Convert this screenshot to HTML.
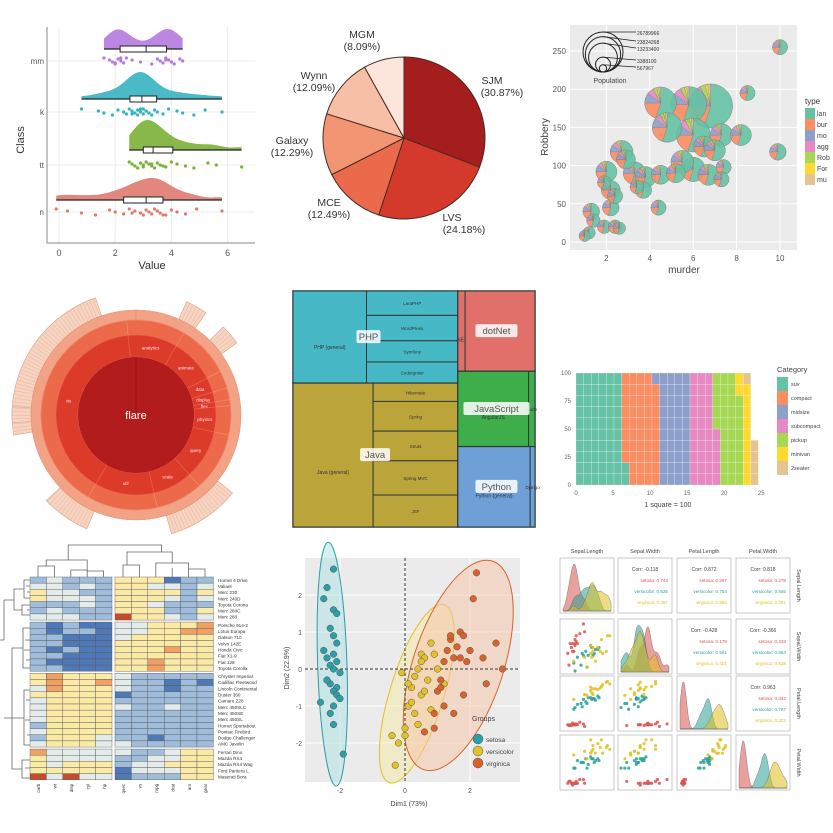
<!DOCTYPE html>
<html><head><meta charset="utf-8">
<style>
html,body{margin:0;padding:0;background:#fff;}
svg{display:block;font-family:"Liberation Sans",sans-serif;}
</style></head>
<body>
<svg id="chart" width="833" height="833" viewBox="0 0 833 833">
<rect x="0" y="0" width="833" height="833" fill="#ffffff"/>
<g id="p1"></g>
<g id="p2"></g>
<g id="p3"></g>
<g id="p4"></g>
<g id="p5"></g>
<g id="p6"></g>
<g id="p7"></g>
<g id="p8"></g>
<g id="p9"></g>
</svg>
<script>
// ---------- DATA ----------
const rcClasses=['mm','k','tt','n'];
const rcMM=[1.6,1.8,1.9,2.0,2.1,2.2,2.3,2.4,2.6,2.9,3.3,3.5,3.6,3.7,3.8,3.9,4.0,4.1,4.3,4.4,2.0,2.2,3.8,4.0];
const rcK=[0.8,1.4,1.6,1.9,2.1,2.3,2.4,2.5,2.6,2.7,2.8,2.8,2.9,3.0,3.0,3.1,3.2,3.3,3.4,3.5,3.7,3.9,4.2,4.4,4.8,5.2,5.8,2.6,2.9,3.1];
const rcTT=[2.5,2.6,2.7,2.8,2.9,3.0,3.0,3.1,3.2,3.3,3.4,3.5,3.6,3.8,4.0,4.2,4.5,4.8,5.3,5.6,6.5,3.1,3.3,3.7];
const rcN=[-0.1,0.3,0.8,1.3,1.8,2.0,2.3,2.5,2.7,2.9,3.0,3.1,3.2,3.3,3.4,3.5,3.6,3.8,4.0,4.2,4.5,4.9,5.8,2.6,3.7];
const rcTicks=[0,2,4,6];

const pieLabels=['SJM','LVS','MCE','Galaxy','Wynn','MGM'];
const pieValues=[30.87,24.18,12.49,12.29,12.09,8.09];

const bubMurder=[10,8.5,9.9,4.5,5.8,6.8,4.8,6.0,7.3,8.2,6.5,7.0,2.7,2.9,5.5,6.0,6.7,7.4,7.3,3.3,3.8,4.5,5.2,2.0,1.9,2.2,2.4,3.7,3.4,2.2,4.4,1.3,1.4,1.9,2.4,2.6,1.2,1.0];
const bubRobbery=[255,195,118,182,180,178,150,140,140,140,125,120,118,108,105,95,88,98,82,90,85,88,90,92,78,68,60,68,72,45,45,40,28,20,20,18,12,8];
const bubPop=[1.5,1.5,2,12,16,26,10,14,5,4,4,4,5,3,5,6,4,1.5,1.5,5,4,3,3,4,1,3,1.5,2,1,2,1.5,2,1,1,1,0.7,0.7,0.5];
const typeNames=['lan','bur','mo','agg','Rob','For','mu'];
const typeShare=[0.55,0.2,0.1,0.07,0.04,0.02,0.02];
const popLegend=[26,20,13,3,0.5];
const popLegendLabels=['26789966','23824268','13233400','3388100','567967'];
const bubXTicks=[2,4,6,8,10];
const bubYTicks=[0,50,100,150,200,250];

const sbL1Names=['analytics','animate','data','display','flex','physics','query','scale','util','vis'];
const sbL1Values=[10,9,3,2,1,5,10,8,12,40];

const tmGroups=['PHP','Java','dotNet','JavaScript','Python'];
const tmGroupCol=[0,0,1,1,1];
const tmChildren=[[7000,2300,2400,2000,2000],[11900,1600,2600,2600,3000,2800],[600,5800],[5500,500],[6000,400]];
const tmChildNames=[['PHP (general)','LaraPHP','WordPress','Symfony','CodeIgniter'],['Java (general)','Hibernate','Spring','Struts','Spring MVC','JSF'],['.NET','dotNet (general)'],['AngularJS','Node'],['Python (general)','Django']];

const wafCats=['suv','compact','midsize','subcompact','pickup','minivan','2seater'];
const wafCounts=[62,47,41,35,33,11,5];
const wafXTicks=[0,5,10,15,20,25];
const wafYTicks=[0,25,50,75,100];

const hmRowNames=['Hornet 4 Drive','Valiant','Merc 230','Merc 240D','Toyota Corona','Merc 280C','Merc 280','Porsche 914-2','Lotus Europa','Datsun 710','Volvo 142E','Honda Civic','Fiat X1-9','Fiat 128','Toyota Corolla','Chrysler Imperial','Cadillac Fleetwood','Lincoln Continental','Duster 360','Camaro Z28','Merc 450SLC','Merc 450SE','Merc 450SL','Hornet Sportabout','Pontiac Firebird','Dodge Challenger','AMC Javelin','Ferrari Dino','Mazda RX4','Mazda RX4 Wag','Ford Pantera L','Maserati Bora'];
const hmColNames=['carb','wt','disp','cyl','hp','qsec','vs','mpg','drat','am','gear'];
const hmRows=['23222444122','33232443323','43322444424','43332444323','22232443222','23222444224','33322644323',
'21211334445','21221334455','22111344444','22111444444','21211444544','22111444444','21111445444','22111445444',
'45444322222','45445322121','35444322122','44444122222','34444222222','34444322322','34444222222','34444222222','24444222222','34444222222','24443221222','34443322222',
'53333322344','43333223344','43444233444','44444133344','63633122244'];
const hmGroupSizes=[7,8,12,5];

const pcaGroups=['setosa','versicolor','virginica'];
const pcaSetX=[-2.2,-2.4,-2.5,-2.2,-2.1,-2.3,-2.2,-2.1,-2.5,-2.2,-2.4,-2.1,-2.3,-2.2,-2.0,-2.4,-2.3,-2.1,-2.2,-2.6,-2.2,-2.3,-2.2,-2.1,-2.0,-2.4,-1.9];
const pcaSetY=[2.7,2.2,1.9,1.6,1.5,1.1,0.9,0.7,0.5,0.4,0.3,0.2,0.1,0.0,-0.1,-0.3,-0.4,-0.5,-0.6,-0.9,-1.0,-1.2,-1.5,-0.7,-0.8,-0.3,-2.3];
const pcaVerX=[-0.3,0.0,0.1,0.2,0.3,0.4,0.5,0.5,0.6,0.7,0.8,0.9,1.0,0.3,0.4,0.2,0.1,0.0,-0.4,-0.2,0.6,1.2,0.8,0.5,-0.1];
const pcaVerY=[-2.6,-1.6,-1.0,-0.5,-0.2,0.0,0.4,-0.7,0.3,-0.3,0.7,0.4,0.0,-1.2,-1.5,-0.9,-0.4,-1.8,-1.8,-2.0,-0.6,-0.4,-1.1,0.2,-0.1];
const pcaVirX=[0.6,0.9,1.0,1.1,1.2,1.3,1.4,1.5,1.6,1.7,1.8,1.9,2.0,2.1,2.2,2.4,2.8,3.0,1.2,1.5,1.8,1.1,0.9,2.5,1.4,1.7];
const pcaVirY=[-1.7,-1.2,-0.6,-0.3,0.2,0.5,0.8,0.3,0.6,1.0,0.9,0.2,0.5,1.9,2.6,0.3,0.7,0.0,-1.0,-1.2,-0.7,-0.5,-1.6,-0.4,0.9,0.3];

const irisVars=['Sepal.Length','Sepal.Width','Petal.Length','Petal.Width'];
const irisSet=[[5.1,3.5,1.4,0.2],[4.9,3.0,1.4,0.2],[4.7,3.2,1.3,0.2],[5.0,3.6,1.4,0.2],[5.4,3.9,1.7,0.4],[4.6,3.4,1.4,0.3],[5.0,3.4,1.5,0.2],[4.4,2.9,1.4,0.2],[5.8,4.0,1.2,0.2],[5.7,4.4,1.5,0.4],[5.2,3.4,1.4,0.2],[4.8,3.0,1.4,0.1],[5.1,3.8,1.5,0.3],[4.8,3.4,1.6,0.2],[5.0,3.3,1.4,0.2],[4.5,2.3,1.3,0.3]];
const irisVer=[[7.0,3.2,4.7,1.4],[6.4,3.2,4.5,1.5],[6.9,3.1,4.9,1.5],[5.5,2.3,4.0,1.3],[6.5,2.8,4.6,1.5],[5.7,2.8,4.5,1.3],[6.3,3.3,4.7,1.6],[4.9,2.4,3.3,1.0],[6.6,2.9,4.6,1.3],[5.2,2.7,3.9,1.4],[5.0,2.0,3.5,1.0],[6.0,2.2,4.0,1.0],[5.9,3.0,4.2,1.5],[6.1,2.8,4.7,1.2],[5.6,2.9,3.6,1.3],[6.7,3.1,4.4,1.4]];
const irisVir=[[6.3,3.3,6.0,2.5],[5.8,2.7,5.1,1.9],[7.1,3.0,5.9,2.1],[6.3,2.9,5.6,1.8],[6.5,3.0,5.8,2.2],[7.6,3.0,6.6,2.1],[4.9,2.5,4.5,1.7],[7.3,2.9,6.3,1.8],[6.7,2.5,5.8,1.8],[7.2,3.6,6.1,2.5],[6.5,3.2,5.1,2.0],[6.4,2.7,5.3,1.9],[7.7,3.8,6.7,2.2],[6.0,2.2,5.0,1.5],[6.9,3.2,5.7,2.3],[7.9,3.8,6.4,2.0]];
const corTotal=[[null,'-0.118','0.872','0.818'],[null,null,'-0.428','-0.366'],[null,null,null,'0.963']];
const corSet=[[null,'0.743','0.267','0.278'],[null,null,'0.178','0.233'],[null,null,null,'0.332']];
const corVer=[[null,'0.526','0.754','0.546'],[null,null,'0.561','0.664'],[null,null,null,'0.787']];
const corVir=[[null,'0.457','0.864','0.281'],[null,null,'0.401','0.538'],[null,null,null,'0.322']];

// ---------- HELPERS ----------
const NS='http://www.w3.org/2000/svg';
function mk(tag,attrs,parent){const e=document.createElementNS(NS,tag);for(const k in attrs)e.setAttribute(k,attrs[k]);parent.appendChild(e);return e;}
function tx(s,attrs,parent){const e=mk('text',attrs,parent);e.textContent=s;return e;}
function kde(arr,bw,x){let s=0;for(const v of arr){const z=(x-v)/bw;s+=Math.exp(-0.5*z*z);}return s/(arr.length*bw*2.5066);}
function quant(arr,p){const a=[...arr].sort((x,y)=>x-y);const i=(a.length-1)*p;const lo=Math.floor(i),hi=Math.ceil(i);return a[lo]+(a[hi]-a[lo])*(i-lo);}
function arcPath(cx,cy,r0,r1,a0,a1){
  const p=(r,a)=>[cx+r*Math.sin(a),cy-r*Math.cos(a)];const lg=(a1-a0)>Math.PI?1:0;
  const A=p(r1,a0),B=p(r1,a1),C=p(r0,a1),D=p(r0,a0);
  if(r0<=0)return `M${cx},${cy}L${A}A${r1},${r1} 0 ${lg} 1 ${B}Z`;
  return `M${A}A${r1},${r1} 0 ${lg} 1 ${B}L${C}A${r0},${r0} 0 ${lg} 0 ${D}Z`;
}
function jit(i,n){return ((i*37)%n)-(n-1)/2;}

// ---------- PANEL 1: RAINCLOUD ----------
(function(){
const g=document.getElementById('p1');
const data=[rcMM,rcK,rcTT,rcN];
const cols=['#b57ae0','#35b2c0','#7ab035','#e07a70'];
const boxY=[49,99,150,200], dotY=[61,112,165,212], hgt=[20,27,30,22];
const xR=v=>59+v*28.1;
rcTicks.forEach(t=>{const l=mk('line',{x1:xR(t),x2:xR(t),y1:27,y2:243,stroke:'#ececec'},g);


const t2=tx(String(t),{x:xR(t),y:256,'font-size':9,'text-anchor':'middle',fill:'#555'},g);

});
dotY.forEach((y,i)=>{const l=mk('line',{x1:47,x2:255,y1:y,y2:y,stroke:'#ececec'},g);


const t=tx(rcClasses[i],{x:44,y:y+3,'font-size':8,'text-anchor':'end',fill:'#555'},g);

});
mk('path',{d:'M47,27V243H255',fill:'none',stroke:'#888','stroke-width':1},g);
const xl=tx('Value',{x:152,y:269,'font-size':11,'text-anchor':'middle',fill:'#333'},g);


const yl=tx('Class',{x:24,y:140,'font-size':11,'text-anchor':'middle',fill:'#333',transform:'rotate(-90 24 140)'},g);


data.forEach((arr,ci)=>{
  const mn=Math.min(...arr),mx=Math.max(...arr);let mxd=0;const pts=[];
  for(let k=0;k<=60;k++){const v=mn+(mx-mn)*k/60;const d=kde(arr,0.35,v);pts.push([v,d]);if(d>mxd)mxd=d;}
  let d=`M${xR(mn)},${boxY[ci]}`;pts.forEach(p=>d+=`L${xR(p[0])},${boxY[ci]-p[1]/mxd*hgt[ci]}`);d+=`L${xR(mx)},${boxY[ci]}Z`;
  const cl=mk('path',{d:d,fill:cols[ci],'fill-opacity':0.9},g);
  
  
  const wl=mk('line',{x1:xR(mn),x2:xR(mx),y1:boxY[ci],y2:boxY[ci],stroke:'#222','stroke-width':1.2},g);
  
  
  const q1=quant(arr,0.25),q3=quant(arr,0.75),md=quant(arr,0.5);
  const bx=mk('rect',{x:xR(q1),y:boxY[ci]-3,width:xR(q3)-xR(q1),height:6,fill:'#fff',stroke:'#222','stroke-width':1},g);
  
  
  mk('line',{x1:xR(md),x2:xR(md),y1:boxY[ci]-3,y2:boxY[ci]+3,stroke:'#222'},g);
  arr.forEach((v,i)=>{const c=mk('circle',{cx:xR(v),cy:dotY[ci]+jit(i,7),r:1.6,fill:cols[ci]},g);
  
  });
});
})();

// ---------- PANEL 2: PIE ----------
(function(){
const g=document.getElementById('p2');
const cols=['#a51e1e','#d43a2c','#ec6a4c','#f29572','#f6bfa6','#fce5da'];
const cx=404,cy=138,r=81;const tot=pieValues.reduce((a,b)=>a+b,0);let a=0;
pieValues.forEach((v,i)=>{const a1=a+v/tot*2*Math.PI;
  const s=mk('path',{d:arcPath(cx,cy,0,r,a,a1),fill:cols[i],stroke:'#4a2a20','stroke-width':1},g);
  
  
  a=a1;});
const lp=[[492,84],[452,221],[329,206],[292,144],[314,79],[362,38]];
pieLabels.forEach((l,i)=>{
  const t=tx(l,{x:lp[i][0],y:lp[i][1],'font-size':10.5,'text-anchor':'middle',fill:'#333'},g);
  
  
  const p=tx('('+pieValues[i].toFixed(2)+'%)',{x:lp[i][0]+(i==0?10:i==1?12:0),y:lp[i][1]+12,'font-size':10.5,'text-anchor':'middle',fill:'#333'},g);
  
  });
})();

// ---------- PANEL 3: BUBBLE PIES ----------
(function(){
const g=document.getElementById('p3');
const tc=['#66c2a5','#fc8d62','#8da0cb','#e78ac3','#a6d854','#ffd92f','#e5c494'];
const bg=mk('rect',{x:570,y:25,width:227,height:225,fill:'#ebebeb'},g);


const xS=v=>563+v*21.7, yS=v=>242-v*0.764;
bubXTicks.forEach(t=>{mk('line',{x1:xS(t),x2:xS(t),y1:25,y2:250,stroke:'#fff'},g);
const l=tx(String(t),{x:xS(t),y:261,'font-size':8,'text-anchor':'middle',fill:'#555'},g);

});
bubYTicks.forEach(t=>{mk('line',{x1:570,x2:797,y1:yS(t),y2:yS(t),stroke:'#fff'},g);
const l=tx(String(t),{x:566,y:yS(t)+3,'font-size':8,'text-anchor':'end',fill:'#555'},g);

});
const xt=tx('murder',{x:684,y:273,'font-size':10,'text-anchor':'middle',fill:'#444'},g);


const yt=tx('Robbery',{x:548,y:137,'font-size':10,'text-anchor':'middle',fill:'#444',transform:'rotate(-90 548 137)'},g);


const rS=p=>3+19*Math.sqrt(p/26);
const order=bubPop.map((p,i)=>i).sort((a,b)=>bubPop[b]-bubPop[a]);
order.forEach(i=>{const cx=xS(bubMurder[i]),cy=yS(bubRobbery[i]),r=rS(bubPop[i]);
  const bub=mk('g',{opacity:0.9},g);
  
  
  let a=0;typeShare.forEach((s,k)=>{const a1=a+s*2*Math.PI;mk('path',{d:arcPath(cx,cy,0,r,a,a1),fill:tc[k],stroke:'#777','stroke-width':0.4},bub);a=a1;});
  mk('circle',{cx:cx,cy:cy,r:r,fill:'none',stroke:'#888','stroke-width':0.5},bub);});
popLegend.forEach((p,i)=>{const r=rS(p)-2;const c=mk('circle',{cx:603,cy:72-r,r:r,fill:'none',stroke:'#222','stroke-width':1},g);


const ys=[35,44,51,63,70][i];
mk('line',{x1:603,x2:636,y1:72-2*r,y2:ys-3,stroke:'#222','stroke-width':0.8},g);
const t=tx(popLegendLabels[i],{x:637,y:ys,'font-size':5,fill:'#333'},g);

});
const pt=tx('Population',{x:610,y:83,'font-size':7,'text-anchor':'middle',fill:'#444'},g);


const lt=tx('type',{x:805,y:104,'font-size':8,fill:'#333'},g);


typeNames.forEach((n,i)=>{const r=mk('rect',{x:805,y:108+i*11,width:10,height:11,fill:tc[i]},g);


const t=tx(n,{x:817,y:116+i*11,'font-size':7,fill:'#444'},g);

});
})();

// ---------- PANEL 4: SUNBURST ----------
(function(){
const g=document.getElementById('p4');
const cx=136,cy=415;const tot=sbL1Values.reduce((a,b)=>a+b,0);
const start=-0.1;let a=start;
const spikeArcs=[[4.55,5.95],[0.42,0.6],[0.78,0.95],[2.25,2.85],[3.55,3.95],[4.65,4.78]];
spikeArcs.forEach(s=>{const p=mk('path',{d:arcPath(cx,cy,105,124,s[0],s[1]),fill:'#f7d3c0',stroke:'#d8a58d','stroke-width':0.6},g);


for(let t=s[0];t<s[1];t+=0.03){mk('line',{x1:cx+105*Math.sin(t),y1:cy-105*Math.cos(t),x2:cx+124*Math.sin(t),y2:cy-124*Math.cos(t),stroke:'#dcae98','stroke-width':0.4},g);}});
const o=mk('path',{d:arcPath(cx,cy,95,105,0,Math.PI*2-0.0001),fill:'#f2a285',stroke:'#e58c6e','stroke-width':0.5},g);


sbL1Values.forEach((v,i)=>{const a1=a+v/tot*2*Math.PI;
  const r2=mk('path',{d:arcPath(cx,cy,80,95,a,a1),fill:'#ec6a4a',stroke:'#f08a6c','stroke-width':0.7},g);
  
  
  const r1=mk('path',{d:arcPath(cx,cy,58,80,a,a1),fill:'#dc3b2a',stroke:'#e9604a','stroke-width':0.7},g);
  
  
  const m=(a+a1)/2;
  const t=tx(sbL1Names[i],{x:cx+69*Math.sin(m),y:cy-69*Math.cos(m)+2,'font-size':4.5,'text-anchor':'middle',fill:'#fde'},g);
  
  
  a=a1;});
const c=mk('circle',{cx:cx,cy:cy,r:58,fill:'#b21c1c'},g);


mk('line',{x1:cx,y1:cy-58,x2:cx,y2:cy,stroke:'#8e1212','stroke-width':0.6},g);
const ft=tx('flare',{x:cx,y:cy+4,'font-size':11,'text-anchor':'middle',fill:'#fff'},g);


})();

// ---------- PANEL 5: TREEMAP ----------
(function(){
const g=document.getElementById('p5');
const cols=['#47b9c6','#bba43a','#e2706a','#3dae4a','#6ea0d7'];
const X0=293,Y0=291,W=242,H=236;
const gsum=tmChildren.map(c=>c.reduce((a,b)=>a+b,0));
const colSum=[0,0];gsum.forEach((s,i)=>colSum[tmGroupCol[i]]+=s);
const tot=colSum[0]+colSum[1];
const colX=[X0,X0+W*colSum[0]/tot],colW=[W*colSum[0]/tot,W*colSum[1]/tot];
const colY=[Y0,Y0];
tmChildren.forEach((ch,gi)=>{const c=tmGroupCol[gi];const gh=H*gsum[gi]/colSum[c];const gx=colX[c],gy=colY[c],gw=colW[c];colY[c]+=gh;
  const gr=mk('rect',{x:gx,y:gy,width:gw,height:gh,fill:cols[gi],stroke:'#2c3a3a','stroke-width':1.5},g);
  
  
  const fw=gw*ch[0]/gsum[gi];
  const cr=mk('rect',{x:gx,y:gy,width:fw,height:gh,fill:cols[gi],stroke:'#2c3a3a','stroke-width':1},g);
  
  
  const lt=tx(tmChildNames[gi][0],{x:gx+fw/2,y:gy+gh*0.63,'font-size':5,'text-anchor':'middle',fill:'#333'},g);
  
  
  const rest=gsum[gi]-ch[0];let yy=gy;
  for(let k=1;k<ch.length;k++){const hh=gh*ch[k]/rest;
    const r=mk('rect',{x:gx+fw,y:yy,width:gw-fw,height:hh,fill:cols[gi],stroke:'#2c3a3a','stroke-width':1},g);
    
    
    if(hh>14){const t=tx(tmChildNames[gi][k],{x:gx+fw+(gw-fw)/2,y:yy+hh/2+2,'font-size':4.5,'text-anchor':'middle',fill:'#333'},g);
    
    }
    yy+=hh;}
  const lx=gi<2?gx+fw+2:gx+gw/2, ly=gy+gh/2;const w=tmGroups[gi].length*6+6;
  const bx=mk('rect',{x:lx-w/2,y:ly-7,width:w,height:13,rx:2,fill:'#fff','fill-opacity':0.85},g);
  
  
  const gt=tx(tmGroups[gi],{x:lx,y:ly+3,'font-size':9.5,'text-anchor':'middle',fill:'#555'},g);
  
  
});
})();

// ---------- PANEL 6: WAFFLE ----------
(function(){
const g=document.getElementById('p6');
const cols=['#66c2a5','#fc8d62','#8da0cb','#e78ac3','#a6d854','#ffd92f','#e5c494'];
const x0=576,yb=485,cw=7.6,rh=11.2;
let idx=0;
wafCounts.forEach((n,ci)=>{for(let k=0;k<n;k++){const col=Math.floor(idx/10),row=idx%10;
  const r=mk('rect',{x:x0+col*cw,y:yb-(row+1)*rh,width:cw,height:rh,fill:cols[ci],stroke:'#fff','stroke-width':0.35,'stroke-opacity':0.6},g);
  
  
  idx++;}});
wafXTicks.forEach(t=>{const l=tx(String(t),{x:x0+t*cw*0.975,y:495,'font-size':6,'text-anchor':'middle',fill:'#666'},g);

});
wafYTicks.forEach(t=>{const l=tx(String(t),{x:571,y:yb-t/100*rh*10+2,'font-size':6,'text-anchor':'end',fill:'#666'},g);

});
const xt=tx('1 square = 100',{x:668,y:507,'font-size':7,'text-anchor':'middle',fill:'#444'},g);


const lt=tx('Category',{x:777,y:372,'font-size':7.5,fill:'#444'},g);


wafCats.forEach((c,i)=>{const r=mk('rect',{x:777,y:377+i*14,width:11,height:14,fill:cols[i]},g);


const t=tx(c,{x:791,y:386+i*14,'font-size':5.5,fill:'#444'},g);

});
})();

// ---------- PANEL 7: HEATMAP ----------
(function(){
const g=document.getElementById('p7');
const pal={'1':'#4f79b6','2':'#9fbddb','3':'#e3ecea','4':'#fbeaa6','5':'#f1a064','6':'#c84a2a'};
const x0=30,cw=16.4,colGap=3,y0=577,rh=6.15,rowGap=2;
const cx=j=>x0+j*cw+(j>=5?colGap:0);
let gstart=[],acc=0;hmGroupSizes.forEach(s=>{gstart.push(acc);acc+=s;});
const ry=i=>{let gi=0;for(let k=0;k<gstart.length;k++)if(i>=gstart[k])gi=k;return y0+i*rh+gi*rowGap;};
hmRows.forEach((row,i)=>{for(let j=0;j<row.length;j++){
  const r=mk('rect',{x:cx(j),y:ry(i),width:cw,height:rh,fill:pal[row[j]],stroke:'#555','stroke-width':0.4},g);
  
  }
  const t=tx(hmRowNames[i],{x:218,y:ry(i)+4.8,'font-size':4.6,fill:'#333'},g);
  
  });
const bottom=ry(hmRows.length-1)+rh;
hmColNames.forEach((c,j)=>{const x=cx(j)+cw/2+2,y=bottom+4;
  const t=tx(c,{x:x,y:y,'font-size':4.6,fill:'#333','text-anchor':'end',transform:`rotate(-90 ${x} ${y})`},g);
  
  });
const dg=mk('path',{d:`M${cx(0)+8},577V566H${cx(1)+8}V577 M${cx(2)+8},577V570H${cx(3)+8}V577 M${cx(4)+8},577V571H${cx(3)+8} M${(cx(0)+cx(1))/2+8},566V560H${cx(3)+8}V570 M${cx(5)+8},577V565H${cx(6)+8}V577 M${cx(7)+8},577V563H${cx(9)+8}V577 M${cx(8)+8},577V568 M${cx(10)+8},577V569H${cx(9)+8} M${cx(5)+12},565V552H${cx(8)+8}V563 M${(cx(0)+cx(1))/2+30},560V545H${cx(6)+30}V552`,fill:'none',stroke:'#666','stroke-width':0.8},g);


const rd=mk('path',{d:`M30,580H24V598H30 M30,586H26 M30,592H27 M30,605H22V615H30 M27,610H30 M24,589H14V610H22 M30,628H23V668H30 M30,640H25 M30,650H24 M30,660H26 M30,690H24V745H30 M30,700H26 M30,720H25 M30,735H27 M24,718H8 M30,760H22V778H30 M30,768H25 M14,600H4 M8,718H4 M23,648H12V769H22 M4,600V640 M4,640H0`,fill:'none',stroke:'#666','stroke-width':0.8},g);


})();

// ---------- PANEL 8: PCA ----------
(function(){
const g=document.getElementById('p8');
const cols=['#2a9fa5','#e2c228','#d9622b'];const fills=['#aee0e3','#f6e9a8','#f6c4a5'];
const bg=mk('rect',{x:305,y:558,width:215,height:224,fill:'#ebebeb'},g);


const xS=v=>405+v*32.5, yS=v=>669-v*37;
[-2,0,2].forEach(t=>{mk('line',{x1:xS(t),x2:xS(t),y1:558,y2:782,stroke:'#fff'},g);
const l=tx(String(t),{x:xS(t),y:793,'font-size':7,'text-anchor':'middle',fill:'#555'},g);

});
[-2,-1,0,1,2].forEach(t=>{mk('line',{x1:305,x2:520,y1:yS(t),y2:yS(t),stroke:'#fff'},g);
const l=tx(String(t),{x:302,y:yS(t)+3,'font-size':7,'text-anchor':'end',fill:'#555'},g);

});
const XS=[pcaSetX,pcaVerX,pcaVirX],YS=[pcaSetY,pcaVerY,pcaVirY];
XS.forEach((xs,k)=>{const ys=YS[k];const n=xs.length;
  const mx=xs.reduce((a,b)=>a+b,0)/n,my=ys.reduce((a,b)=>a+b,0)/n;
  let sxx=0,syy=0,sxy=0;for(let i=0;i<n;i++){const dx=(xs[i]-mx)*32.5,dy=-(ys[i]-my)*37;sxx+=dx*dx;syy+=dy*dy;sxy+=dx*dy;}
  sxx/=n-1;syy/=n-1;sxy/=n-1;
  const tr=sxx+syy,det=sxx*syy-sxy*sxy,l1=tr/2+Math.sqrt(tr*tr/4-det),l2=tr/2-Math.sqrt(tr*tr/4-det);
  const ang=Math.atan2(l1-sxx,sxy)*180/Math.PI;const kf=2.8;
  const e=mk('ellipse',{cx:xS(mx),cy:yS(my),rx:kf*Math.sqrt(l1),ry:kf*Math.sqrt(Math.max(l2,1)),transform:`rotate(${ang} ${xS(mx)} ${yS(my)})`,fill:fills[k],'fill-opacity':0.5,stroke:cols[k],'stroke-width':1},g);
  
  });
mk('line',{x1:xS(0),x2:xS(0),y1:558,y2:782,stroke:'#555','stroke-dasharray':'3,2','stroke-width':1.2},g);
mk('line',{x1:305,x2:520,y1:yS(0),y2:yS(0),stroke:'#555','stroke-dasharray':'3,2','stroke-width':1.2},g);
XS.forEach((xs,k)=>{xs.forEach((x,i)=>{const c=mk('circle',{cx:xS(x),cy:yS(YS[k][i]),r:3.3,fill:cols[k],stroke:'#555','stroke-width':0.5},g);

});});
const lt=tx('Groups',{x:472,y:721,'font-size':7,fill:'#444'},g);


pcaGroups.forEach((n,i)=>{const c=mk('circle',{cx:478,cy:739+i*12,r:5,fill:cols[i],stroke:'#555','stroke-width':0.5},g);


const t=tx(n,{x:486,y:742+i*12,'font-size':6.5,fill:'#444'},g);

});
const xt=tx('Dim1 (73%)',{x:409,y:806,'font-size':7,'text-anchor':'middle',fill:'#444'},g);


const yt=tx('Dim2 (22.9%)',{x:289,y:668,'font-size':7,'text-anchor':'middle',fill:'#444',transform:'rotate(-90 289 668)'},g);


})();

// ---------- PANEL 9: PAIRS ----------
(function(){
const g=document.getElementById('p9');
const cols=['#d9534f','#2aa198','#e0c020'];const spNames=['setosa','versicolor','virginica'];
const sets=[irisSet,irisVer,irisVir];
const rng=[[4,8],[2,4.5],[1,7],[0,2.6]];
const cellX=[560,618,677,736],cellY=[558,619,676,735],cw=54,ch=55;
const corTabs=[corSet,corVer,corVir];
for(let r=0;r<4;r++){for(let c=0;c<4;c++){
  const x0=cellX[c],y0=cellY[r];
  const b=mk('rect',{x:x0,y:y0,width:cw,height:ch,fill:'#fff',stroke:'#bbb','stroke-width':0.8},g);
  
  
  const xS=v=>x0+3+(v-rng[c][0])/(rng[c][1]-rng[c][0])*(cw-6);
  if(r===c){let mxd=0;const curves=sets.map(s=>{const arr=s.map(p=>p[c]);const bw=(rng[c][1]-rng[c][0])*0.06;const pts=[];
      for(let k=0;k<=50;k++){const v=rng[c][0]+(rng[c][1]-rng[c][0])*k/50;const d=kde(arr,bw,v);pts.push([v,d]);if(d>mxd)mxd=d;}return pts;});
    curves.forEach((pts,k)=>{let d=`M${xS(pts[0][0])},${y0+ch-2}`;pts.forEach(p=>d+=`L${xS(p[0])},${y0+ch-2-p[1]/mxd*(ch-8)}`);d+=`L${xS(pts[pts.length-1][0])},${y0+ch-2}Z`;
      const a=mk('path',{d:d,fill:cols[k],'fill-opacity':0.55,stroke:'#666','stroke-width':0.4},g);
      
      });
  } else if(r>c){const yS=v=>y0+ch-3-(v-rng[r][0])/(rng[r][1]-rng[r][0])*(ch-6);
    sets.forEach((s,k)=>s.forEach(p=>{const d=mk('circle',{cx:xS(p[c]),cy:yS(p[r]),r:1.6,fill:cols[k],'fill-opacity':0.85},g);
      
      }));
  } else {const t=tx('Corr: '+corTotal[r][c],{x:x0+cw/2,y:y0+13,'font-size':5,'text-anchor':'middle',fill:'#444'},g);
    
    
    corTabs.forEach((tab,k)=>{const s=tx(spNames[k]+': '+tab[r][c],{x:x0+cw-4,y:y0+24+k*11,'font-size':4.6,'text-anchor':'end',fill:cols[k]},g);
      
      });}
}}
irisVars.forEach((v,i)=>{const t=tx(v,{x:cellX[i]+cw/2,y:553,'font-size':5.5,'text-anchor':'middle',fill:'#444'},g);


const y=cellY[i]+ch/2;const s=tx(v,{x:797,y:y,'font-size':5.5,'text-anchor':'middle',fill:'#444',transform:`rotate(90 797 ${y})`},g);

});
})();
</script>
</body></html>
